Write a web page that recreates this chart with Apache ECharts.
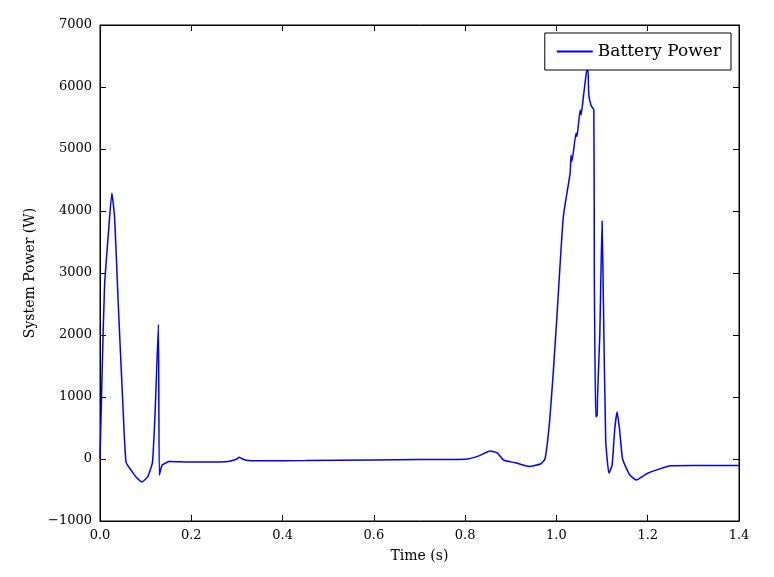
<!DOCTYPE html>
<html>
<head>
<meta charset="utf-8">
<script src="https://cdn.jsdelivr.net/npm/echarts@6/dist/echarts.min.js"></script>
<style>html,body{margin:0;padding:0;background:#fff;}#chart{width:774px;height:577px;}</style>
</head>
<body>
<div id="chart"></div>
<script>
// time (s) and battery power (W)
var times = [0, 0.005, 0.01, 0.018, 0.026, 0.032, 0.04, 0.05, 0.057, 0.07, 0.08, 0.092, 0.105, 0.115, 0.121, 0.128, 0.13, 0.136, 0.145, 0.153,
	0.2, 0.28, 0.3, 0.305, 0.31, 0.32, 0.35, 0.45, 0.6, 0.7, 0.8, 0.83, 0.855, 0.87, 0.885, 0.91, 0.94, 0.965, 0.975,
	0.985, 0.993, 1.001, 1.015, 1.03, 1.032, 1.034, 1.043, 1.045, 1.052, 1.054, 1.06, 1.066, 1.069, 1.071, 1.076, 1.082,
	1.083, 1.086, 1.089, 1.09, 1.095, 1.1, 1.103, 1.108, 1.115, 1.122, 1.128, 1.133, 1.138, 1.145, 1.16, 1.175, 1.2, 1.25, 1.3, 1.4];
var power = [0, 1500, 2800, 3600, 4290, 3900, 2500, 900, -50, -200, -300, -370, -280, -50, 800, 2170, -260, -100, -60, -40,
	-50, -40, 0, 30, 10, -20, -30, -25, -15, -10, -5, 50, 130, 100, -20, -60, -120, -80, 0,
	600, 1390, 2290, 3900, 4610, 4900, 4800, 5260, 5200, 5630, 5550, 5900, 6250, 6300, 5870, 5700, 5630,
	3000, 680, 700, 1000, 2000, 3840, 2500, 300, -230, -100, 500, 760, 500, 0, -250, -340, -230, -110, -105, -105];

var tickLabels = ['0.0', '0.2', '0.4', '0.6', '0.8', '1.0', '1.2', '1.4'];
var seriesName = 'Battery Power';

var data = [];
for (var i = 0; i < times.length; i++) {
	data.push([times[i], power[i]]);
}

var font = 'DejaVu Serif';
var frame = {show: true, onZero: false, lineStyle: {color: '#000', width: 1}};
var inTick = {show: true, inside: true, length: 6, lineStyle: {color: '#000'}};

var chart = echarts.init(document.getElementById('chart'));
chart.setOption({
	animation: false,
	textStyle: {fontFamily: font},
	grid: {left: 100, right: 35, top: 25, bottom: 56, show: true, borderColor: '#000', borderWidth: 1},
	legend: {
		data: [seriesName],
		right: 43, top: 33,
		padding: [10, 10, 10, 12],
		borderColor: '#000', borderWidth: 1, borderRadius: 0,
		backgroundColor: '#fff',
		itemWidth: 36, itemHeight: 2, itemGap: 10,
		icon: 'rect',
		textStyle: {fontFamily: font, fontSize: 17, color: '#000'}
	},
	xAxis: [{
		type: 'value', min: 0, max: 1.4, interval: 0.2,
		name: 'Time (s)', nameLocation: 'middle', nameGap: 28,
		nameTextStyle: {fontFamily: font, fontSize: 14, color: '#000'},
		axisLine: frame, axisTick: inTick, splitLine: {show: false},
		axisLabel: {color: '#000', fontSize: 13, fontFamily: font, margin: 8,
			formatter: function (v) { return tickLabels[Math.round(v / 0.2)]; }}
	}, {
		type: 'value', position: 'top', min: 0, max: 1.4, interval: 0.2,
		axisLine: frame, axisTick: inTick, axisLabel: {show: false}, splitLine: {show: false}
	}],
	yAxis: [{
		type: 'value', min: -1000, max: 7000, interval: 1000,
		name: 'System Power (W)', nameLocation: 'middle', nameGap: 62,
		nameTextStyle: {fontFamily: font, fontSize: 14, color: '#000'},
		axisLine: frame, axisTick: inTick, splitLine: {show: false},
		axisLabel: {color: '#000', fontSize: 13, fontFamily: font, margin: 8,
			formatter: function (v) { return v < 0 ? '\u2212' + (-v) : String(v); }}
	}, {
		type: 'value', position: 'right', min: -1000, max: 7000, interval: 1000,
		axisLine: frame, axisTick: inTick, axisLabel: {show: false}, splitLine: {show: false}
	}],
	series: [{
		name: seriesName, type: 'line', data: data,
		showSymbol: false, smooth: 0.15,
		lineStyle: {color: '#0000ff', width: 1.5},
		itemStyle: {color: '#0000ff'}
	}]
});
</script>
</body>
</html>
